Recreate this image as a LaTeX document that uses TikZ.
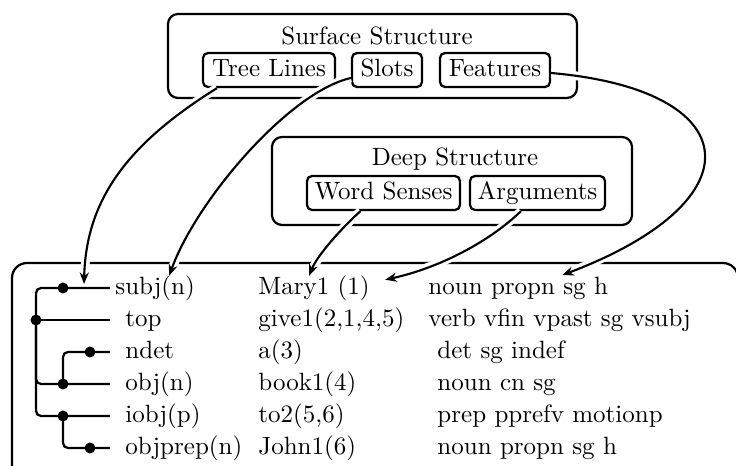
\documentclass[tikz,border=0pt]{standalone}
\usetikzlibrary{arrows.meta,calc}
\begin{document}
\begin{tikzpicture}[x=0.4pt,y=-0.4pt,
  bigbox/.style={draw, line width=0.9pt, rounded corners=4pt, inner sep=0pt},
  smallbox/.style={draw, line width=0.9pt, rounded corners=2pt, inner sep=0pt,
    minimum height=13.6pt, text height=7pt, text depth=2pt},
  title/.style={anchor=base, inner sep=0pt},
  cell/.style={anchor=base west, inner sep=0pt},
  link/.style={line width=0.85pt, -{Stealth[length=4.6pt,width=3.6pt,inset=1.5pt]},
    preaction={draw=white, line width=3.5pt, -}},
  treeline/.style={line width=0.9pt, rounded corners=2pt},
  dot/.style={circle, fill, inner sep=0pt, minimum size=4.4pt},
]
\useasboundingbox (0,0) rectangle (736,466);
\begin{scope}
\clip (0,0) rectangle (736,466);
% boxes
\node[bigbox, minimum width=163.6pt, minimum height=33.6pt] (surf) at (372.5,56) {};
\node[title] (surft) at (377,45) {Surface Structure};
\node[smallbox, minimum width=52.8pt] (tree) at (269,70) {Tree Lines};
\node[smallbox, minimum width=28pt] (slots) at (387,70) {Slots};
\node[smallbox, minimum width=44pt] (feat) at (495,70) {Features};

\node[bigbox, minimum width=144pt, minimum height=35.2pt] (deep) at (452,181) {};
\node[title] (deept) at (455,166) {Deep Structure};
\node[smallbox, minimum width=61.2pt] (ws) at (383.5,193) {Word Senses};
\node[smallbox, minimum width=54pt] (args) at (537.5,193) {Arguments};

\node[bigbox, rounded corners=6pt, minimum width=290.4pt, minimum height=86.8pt] (tab) at (375,371.5) {};

% table cells
\node[cell] (r1a) at (115,295) {subj(n)};
\node[cell] (r1b) at (258,295) {Mary1 (1)};
\node[cell] (r1c) at (428,295) {noun propn sg h};
\node[cell] (r2a) at (125,327) {top};
\node[cell] (r2b) at (258,327) {give1(2,1,4,5)};
\node[cell] (r2c) at (428,327) {verb vfin vpast sg vsubj};
\node[cell] (r3a) at (125,359) {ndet};
\node[cell] (r3b) at (258,359) {a(3)};
\node[cell] (r3c) at (437,359) {det sg indef};
\node[cell] (r4a) at (125,391) {obj(n)};
\node[cell] (r4b) at (258,391) {book1(4)};
\node[cell] (r4c) at (437,391) {noun cn sg};
\node[cell] (r5a) at (125,423) {iobj(p)};
\node[cell] (r5b) at (258,423) {to2(5,6)};
\node[cell] (r5c) at (437,423) {prep pprefv motionp};
\node[cell] (r6a) at (125,455) {objprep(n)};
\node[cell] (r6b) at (258,455) {John1(6)};
\node[cell] (r6c) at (437,455) {noun propn sg h};

% connectors
\draw[link] ($(tree.south)+(-52,0)$) .. controls +(-90,56) and +(2,-84) .. ($(r1a.base west)+(-31,-11)$);
\draw[link] ($(slots.west)+(0,8)$) .. controls +(-62,14) and +(27,-75) .. ($(r1a.north)+(14,0)$);
\draw[link] ($(feat.east)+(0,3)$) .. controls +(195,17) and +(198,-75) .. ($(r1c.north)+(44,-2)$);
\draw[link] ($(ws.south)+(-23,0)$) .. controls +(-20,18) and +(8,-20) .. ($(r1b.north)+(-5,0)$);
\draw[link] ($(args.south)+(-16.5,0)$) .. controls +(-31,30) and +(55,-12) .. ($(r1b.north east)+(15,4)$);

% tree
\coordinate (e1) at (110,288);
\coordinate (e2) at (110,320);
\coordinate (e3) at (110,352);
\coordinate (e4) at (110,384);
\coordinate (e5) at (110,416);
\coordinate (e6) at (110,448);
\node[dot] (d2) at (36,320) {};
\node[dot] (d1) at (63,288) {};
\node[dot] (d3) at (90,352) {};
\node[dot] (d4) at (63,384) {};
\node[dot] (d5) at (63,416) {};
\node[dot] (d6) at (90,448) {};
\draw[treeline] (d2.center) |- (e1);
\draw[treeline] (d2.center) -- (e2);
\draw[treeline] (d2.center) |- (e4);
\draw[treeline] (d2.center) |- (e5);
\draw[treeline] (d4.center) |- (e3);
\draw[treeline] (d5.center) |- (e6);
\end{scope}
\end{tikzpicture}
\end{document}
